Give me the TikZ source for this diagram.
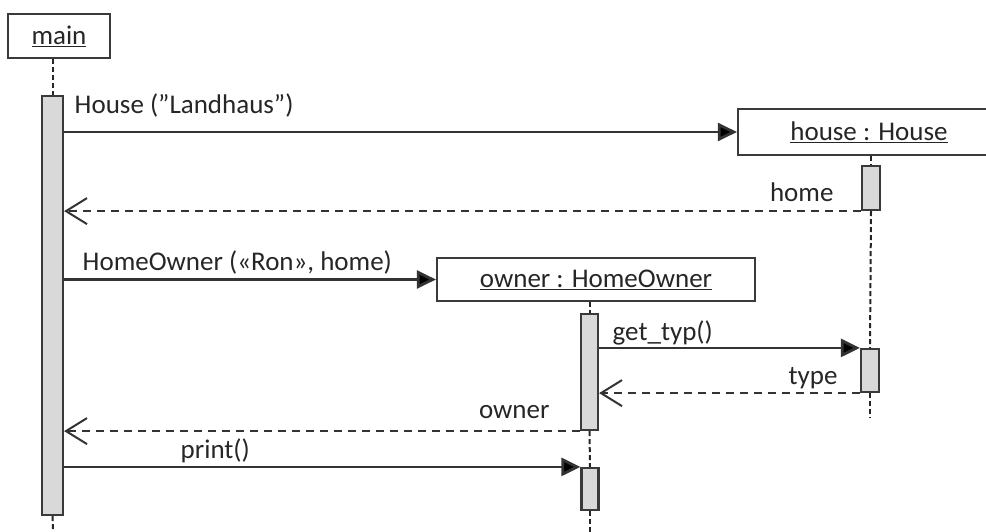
\documentclass[tikz,border=0pt]{standalone}
\usepackage{fontspec}
\setmainfont{Carlito}
\usetikzlibrary{arrows.meta}
\definecolor{linegray}{HTML}{3A3A3A}
\definecolor{bargray}{HTML}{D9D9D9}
\begin{document}
\begin{tikzpicture}
  [
    x=1pt, y=-1pt,
    font=\fontsize{27}{32}\selectfont,
    text=black!85,
    obj/.style =
      {draw=linegray, line width=2.2pt, fill=white, inner sep=0pt},
    bar/.style =
      {draw=linegray, line width=2.2pt, fill=bargray, inner sep=0pt},
    life/.style =
      {draw=black!85, line width=2pt, dash pattern=on 5pt off 3pt},
    call/.style =
      {-{Triangle[length=19pt, width=18pt, fill=black]}, draw=black!80, line width=2.8pt},
    reply/.style =
      {-{Straight Barb[length=21pt, width=26pt, line width=2pt]},
       draw=black!80, line width=2.4pt, dash pattern=on 8pt off 6pt}
  ]
  \useasboundingbox (0,0) rectangle (986,532);
  \clip (0,0) rectangle (986,532);

  % objects
  \node [obj, minimum width=102pt, minimum height=44pt] at (59, 36)    (main)  {\underline{main}};
  \node [obj, minimum width=262pt, minimum height=46pt] at (869, 132)  (house) {\underline{house : House}};
  \node [obj, minimum width=318pt, minimum height=43pt] at (596, 279.5) (owner) {\underline{owner : HomeOwner}};

  % activation bars
  \node [bar, minimum width=21pt, minimum height=419pt] at (52.5, 305.5) (mainbar)   {};
  \node [bar, minimum width=18pt, minimum height=44pt]  at (871, 188)    (housebar1) {};
  \node [bar, minimum width=18pt, minimum height=43pt]  at (870, 370.5)  (housebar2) {};
  \node [bar, minimum width=17pt, minimum height=116pt] at (589.5, 372)  (ownerbar1) {};
  \node [bar, minimum width=17pt, minimum height=42pt]  at (590, 489)    (ownerbar2) {};

  \coordinate (mainend)  at (53, 532);
  \coordinate (houseend) at (870, 418);
  \coordinate (ownerend) at (590, 532);

  % lifelines
  \draw [life] (main.south -| mainbar)      -- (mainbar.north);
  \draw [life] (mainbar.south)              -- (mainend);
  \draw [life] (house.south -| housebar1)   -- (housebar1.north);
  \draw [life] (housebar1.south)            -- (housebar2.north);
  \draw [life] (housebar2.south)            -- (houseend);
  \draw [life] (owner.south -| ownerbar1)   -- (ownerbar1.north);
  \draw [life] (ownerbar1.south)            -- (ownerbar2.north);
  \draw [life] (ownerbar2.south)            -- (ownerend);

  % messages
  \draw [call]  (mainbar.east |- house.west) -- (house.west)
    node [anchor=base west] at (70, 114) {House (”Landhaus”)};
  \draw [reply] (housebar1.south west) -- (mainbar.east |- housebar1.south)
    node [anchor=base east] at (838, 202) {home};
  \draw [call]  (mainbar.east |- owner.west) -- (owner.west)
    node [anchor=base west] at (78, 270.5) {HomeOwner («Ron», home)};
  \draw [call]  (ownerbar1.east |- housebar2.north) -- (housebar2.north west)
    node [anchor=base west] at (608, 340) {get\_typ()};
  \draw [reply] (housebar2.south west) -- (ownerbar1.east |- housebar2.south)
    node [anchor=base east] at (842, 384) {type};
  \draw [reply] (ownerbar1.south west) -- (mainbar.east |- ownerbar1.south)
    node [anchor=base east] at (554, 418) {owner};
  \draw [call]  (mainbar.east |- ownerbar2.north) -- (ownerbar2.north west)
    node [anchor=base west] at (176, 458) {print()};
\end{tikzpicture}
\end{document}
